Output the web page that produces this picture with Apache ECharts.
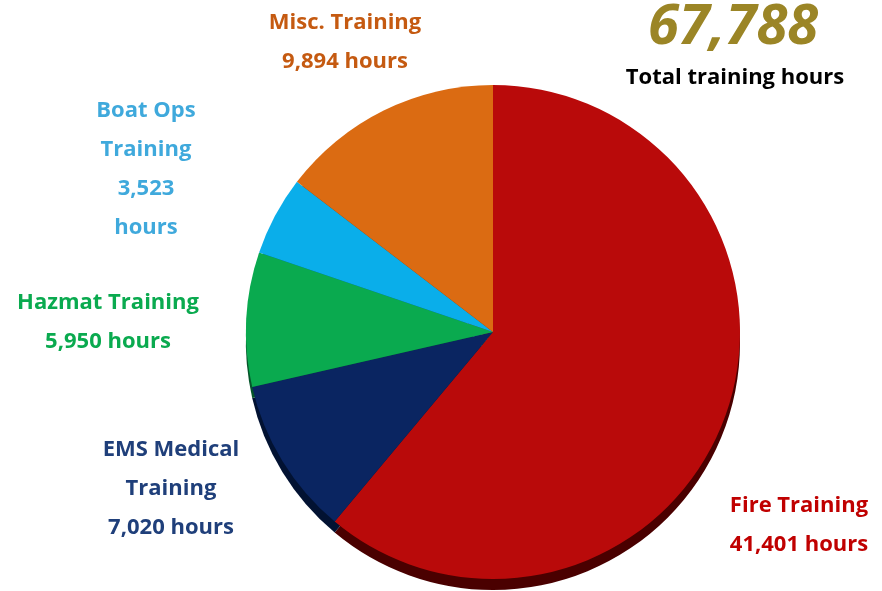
<!DOCTYPE html>
<html>
<head>
<meta charset="utf-8">
<script src="https://cdn.jsdelivr.net/npm/echarts@6/dist/echarts.min.js"></script>
<style>
  html, body { margin: 0; padding: 0; background: #fff; }
  #chart { width: 882px; height: 591px; }
</style>
</head>
<body>
<div id="chart"></div>
<script>
'use strict';

// data
var categories = ['Fire Training', 'EMS Medical\nTraining', 'Hazmat Training', 'Boat Ops\nTraining', 'Misc. Training'];
var hours = [41401, 7020, 5950, 3523, 9894];
var totalHours = 67788;

// styles
var sliceColors = ['#b90a0a', '#0a2561', '#0aaa4f', '#0aaeea', '#db6b12'];
var edgeColors = ['#4a0000', '#021232', '#05552a', '#055a78', '#6e3608'];
var labelColors = ['#c00000', '#1f3f7a', '#0aaa4f', '#3fa9dc', '#c55a11'];
// label centre points (px)
var labelAnchors = [[799, 525], [171, 489], [108, 322], [146, 169], [345, 42]];

var font = '"Open Sans", "Noto Sans", sans-serif';

function fmt(n) {
    return n.toString().replace(/\B(?=(\d{3})+(?!\d))/g, ',');
}

var chart = echarts.init(document.getElementById('chart'));

var pieData = [];
var edgeData = [];
for (var i = 0; i < hours.length; i++) {
    var name = categories[i];
    // boat ops label wraps the number onto its own line
    var valText = fmt(hours[i]) + (i === 3 ? '\nhours' : ' hours');
    pieData.push({
        name: name,
        value: hours[i],
        itemStyle: { color: sliceColors[i] },
        label: {
            color: labelColors[i],
            formatter: name + '\n' + valText
        }
    });
    edgeData.push({ name: name, value: hours[i], itemStyle: { color: edgeColors[i] } });
}

chart.setOption({
    animation: false,
    title: [{
        text: fmt(totalHours),
        left: 728,
        top: -5,
        textAlign: 'center',
        textStyle: { fontFamily: font, fontSize: 56, fontStyle: 'italic', fontWeight: 'bold', color: '#9b8526' }
    }, {
        text: 'Total training hours',
        left: 730,
        top: 62,
        textAlign: 'center',
        textStyle: { fontFamily: font, fontSize: 22, fontWeight: 'bold', color: '#000' }
    }],
    series: [{
        // darker copy shifted down for the 3d edge
        type: 'pie',
        z: 1,
        silent: true,
        center: [493, 343],
        radius: 247,
        startAngle: 90,
        clockwise: true,
        label: { show: false },
        labelLine: { show: false },
        data: edgeData
    }, {
        type: 'pie',
        z: 2,
        center: [493, 332],
        radius: 247,
        startAngle: 90,
        clockwise: true,
        itemStyle: { borderWidth: 0 },
        labelLine: { show: false },
        label: {
            show: true,
            fontFamily: font,
            fontSize: 22,
            fontWeight: 'bold',
            lineHeight: 39,
            align: 'center',
            overflow: 'none'
        },
        labelLayout: function(params) {
            var p = labelAnchors[params.dataIndex];
            return { x: p[0], y: p[1], align: 'center', verticalAlign: 'middle', width: 300 };
        },
        data: pieData
    }]
});
</script>
</body>
</html>
